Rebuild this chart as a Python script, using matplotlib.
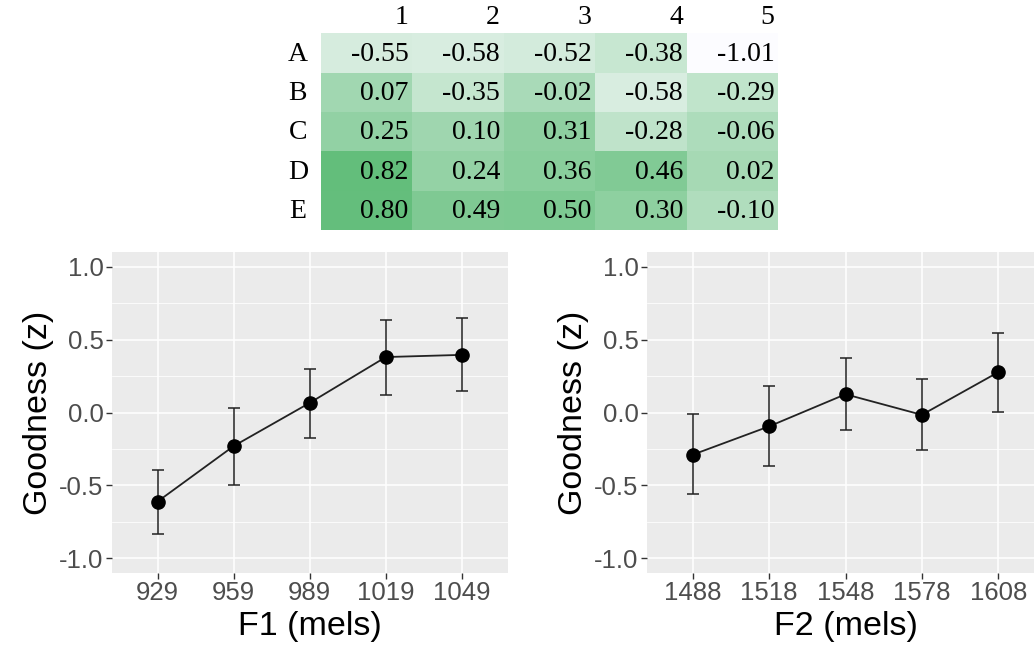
import numpy as np
import matplotlib
matplotlib.use("Agg")
import matplotlib.pyplot as plt
from matplotlib.colors import LinearSegmentedColormap

# table data
row_labels = ["A", "B", "C", "D", "E"]
col_labels = ["1", "2", "3", "4", "5"]
table_vals = np.array([
    [-0.55, -0.58, -0.52, -0.38, -1.01],
    [0.07, -0.35, -0.02, -0.58, -0.29],
    [0.25, 0.10, 0.31, -0.28, -0.06],
    [0.82, 0.24, 0.36, 0.46, 0.02],
    [0.80, 0.49, 0.50, 0.30, -0.10],
])

# F1 panel
f1_labels = ["929", "959", "989", "1019", "1049"]
f1_mean = [-0.61, -0.23, 0.066, 0.38, 0.395]
f1_lo = [-0.83, -0.50, -0.173, 0.123, 0.144]
f1_hi = [-0.395, 0.034, 0.30, 0.635, 0.649]

# F2 panel
f2_labels = ["1488", "1518", "1548", "1578", "1608"]
f2_mean = [-0.289, -0.095, 0.125, -0.016, 0.276]
f2_lo = [-0.558, -0.369, -0.118, -0.255, 0.004]
f2_hi = [-0.011, 0.185, 0.371, 0.227, 0.547]

W, H = 1034, 647
fig = plt.figure(figsize=(W / 100, H / 100), dpi=100)


def px_axes(x0, y0, x1, y1):
    """axes from pixel box (top-left origin)"""
    return fig.add_axes([x0 / W, (H - y1) / H, (x1 - x0) / W, (y1 - y0) / H])


# ---- table ----
cmap = LinearSegmentedColormap.from_list("xl_green", ["#FCFCFF", "#63BE7B"])
tax = px_axes(320.7, 33.3, 778.3, 230)
tax.pcolormesh(np.arange(6), np.arange(6), table_vals, cmap=cmap,
               vmin=table_vals.min(), vmax=table_vals.max())
tax.set_xlim(0, 5); tax.set_ylim(5, 0)
tax.axis("off")
serif = dict(family="Liberation Serif", fontsize=20, color="black")
for i in range(5):
    for j in range(5):
        tax.text(j + 0.96, i + 0.53, f"{table_vals[i, j]:.2f}",
                 ha="right", va="center", **serif)
    tax.text(-0.25, i + 0.53, row_labels[i], ha="center", va="center",
             clip_on=False, **serif)
for j, c in enumerate(col_labels):
    tax.text(j + 0.96, -0.4, c, ha="right", va="center", clip_on=False, **serif)


# ---- ggplot-like panels ----
def gg_panel(ax, labels, mean, lo, hi, xlabel):
    x = np.arange(1, len(labels) + 1)
    ax.set_facecolor("#EBEBEB")
    for s in ax.spines.values():
        s.set_visible(False)
    ax.set_xlim(0.4, 5.6)
    ax.set_ylim(-1.1, 1.1)
    ax.set_yticks([-1.0, -0.5, 0.0, 0.5, 1.0])
    ax.set_yticks([-0.75, -0.25, 0.25, 0.75], minor=True)
    ax.set_yticklabels(["-1.0", "-0.5", "0.0", "0.5", "1.0"])
    ax.set_xticks(x)
    ax.set_xticklabels(labels)
    ax.grid(True, which="major", color="white", lw=1.1)
    ax.grid(True, which="minor", axis="y", color="white", lw=0.55)
    ax.set_axisbelow(True)
    ax.tick_params(which="major", length=4.5, width=1, color="#333333",
                   labelcolor="#4D4D4D", labelsize=18.5, pad=1.5)
    ax.tick_params(which="minor", length=0)
    for t in ax.get_xticklabels() + ax.get_yticklabels():
        t.set_family("Liberation Sans")
    yerr = [np.array(mean) - np.array(lo), np.array(hi) - np.array(mean)]
    ax.errorbar(x, mean, yerr=yerr, fmt="none", ecolor="#222222",
                elinewidth=1.3, capsize=4, capthick=1.3, alpha=0.85, zorder=3)
    ax.plot(x, mean, color="#222222", lw=1.3, zorder=4)
    ax.plot(x, mean, "o", color="black", ms=9.5, zorder=5)
    ax.set_xlabel(xlabel, family="Liberation Sans", fontsize=24.5, labelpad=4)
    ax.set_ylabel("Goodness (z)", family="Liberation Sans", fontsize=24.5, labelpad=4)


ax1 = px_axes(112, 252, 507.5, 573)
gg_panel(ax1, f1_labels, f1_mean, f1_lo, f1_hi, "F1 (mels)")

ax2 = px_axes(647, 252, 1044, 573)
gg_panel(ax2, f2_labels, f2_mean, f2_lo, f2_hi, "F2 (mels)")

fig.savefig("out.png", dpi=100)
